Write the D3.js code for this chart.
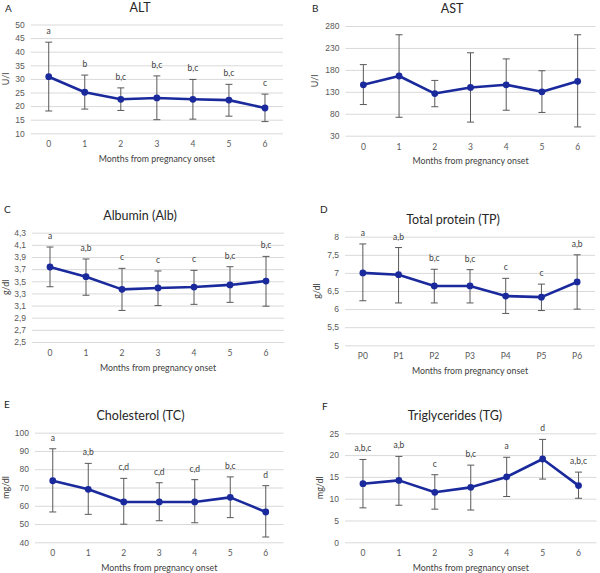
<!DOCTYPE html>
<html>
<head>
<meta charset="utf-8">
<script src="https://cdn.jsdelivr.net/npm/d3@7"></script>
<style>
  body { margin: 0; background: #fff; }
  svg { display: block; font-family: Lato, "Open Sans", sans-serif; }
  .grid line { stroke: #d9d9d9; stroke-width: 1; }
  .grid text { fill: #595959; font-size: 8.5px; }
  .xlab { fill: #595959; font-size: 8.5px; }
  .xtitle { fill: #404040; font-size: 8.8px; }
  .ytitle { fill: #404040; font-size: 9px; }
  .title { fill: #262626; font-size: 12.5px; }
  .panel { fill: #262626; font-size: 10px; }
  .sig { fill: #404040; font-size: 8.5px; }
</style>
</head>
<body>
<svg width="600" height="573"></svg>
<script>
// values
const months = ["0", "1", "2", "3", "4", "5", "6"];
const monthsP = ["P0", "P1", "P2", "P3", "P4", "P5", "P6"];

const altMean = [30.8, 25.1, 22.5, 23.0, 22.5, 22.2, 19.3];
const altHigh = [43.5, 31.4, 26.7, 31.1, 29.8, 28.0, 24.4];
const altLow = [18.2, 18.9, 18.4, 15.0, 15.2, 16.3, 14.3];
const altSig = ["a", "b", "b,c", "b,c", "b,c", "b,c", "c"];
const altTicks = [10, 15, 20, 25, 30, 35, 40, 45, 50];

const astMean = [146, 166, 126, 140, 146, 130, 154];
const astHigh = [192, 260, 156, 219, 205, 178, 260];
const astLow = [101, 72, 96, 61, 88, 83, 50];
const astTicks = [30, 80, 130, 180, 230, 280];

const albMean = [3.735, 3.575, 3.367, 3.39, 3.405, 3.44, 3.504];
const albHigh = [4.064, 3.867, 3.713, 3.67, 3.68, 3.74, 3.91];
const albLow = [3.41, 3.27, 3.02, 3.10, 3.12, 3.153, 3.09];
const albSig = ["a", "a,b", "c", "c", "c", "b,c", "b,c"];
const albTicks = [2.5, 2.7, 2.9, 3.1, 3.3, 3.5, 3.7, 3.9, 4.1, 4.3];

const tpMean = [7.0, 6.95, 6.64, 6.64, 6.36, 6.33, 6.75];
const tpHigh = [7.8, 7.7, 7.1, 7.09, 6.85, 6.69, 7.5];
const tpLow = [6.23, 6.17, 6.17, 6.17, 5.88, 5.96, 6.0];
const tpSig = ["a", "a,b", "b,c", "b,c", "c", "c", "a,b"];
const tpTicks = [5, 5.5, 6, 6.5, 7, 7.5, 8];

const tcMean = [73.7, 69.0, 62.1, 62.1, 62.1, 64.6, 56.6];
const tcHigh = [91.2, 83.2, 75.0, 72.6, 74.3, 75.8, 71.0];
const tcLow = [56.6, 55.3, 49.9, 51.8, 50.7, 53.5, 42.9];
const tcSig = ["a", "a,b", "c,d", "c,d", "c,d", "b,c", "d"];
const tcTicks = [40, 50, 60, 70, 80, 90, 100];

const tgMean = [13.44, 14.2, 11.47, 12.6, 15.0, 19.1, 13.0];
const tgHigh = [19.0, 19.7, 15.5, 17.7, 19.5, 23.6, 16.1];
const tgLow = [7.9, 8.5, 7.6, 7.4, 10.5, 14.5, 10.1];
const tgSig = ["a,b,c", "a,b", "c", "b,c", "a", "d", "a,b,c"];
const tgTicks = [0, 5, 10, 15, 20, 25];

const lineColor = "#1a2a9c";
const svg = d3.select("svg");
const comma = d => String(d).replace(".", ",");

const panels = [
  {tag: "A", title: "ALT", unit: "U/l", cats: months, mean: altMean, hi: altHigh, lo: altLow, sig: altSig, ticks: altTicks,
   x0: 30.7, x1: 283, y0: 24.5, y1: 133.3, tx: 140, lx: 5, ly: 8, ux: 6},
  {tag: "B", title: "AST", unit: "U/l", cats: months, mean: astMean, hi: astHigh, lo: astLow, sig: null, ticks: astTicks,
   x0: 345.5, x1: 595.5, y0: 26, y1: 135.7, tx: 452, lx: 312, ly: 8, ux: 315},
  {tag: "C", title: "Albumin (Alb)", unit: "g/dl", cats: months, mean: albMean, hi: albHigh, lo: albLow, sig: albSig, ticks: albTicks,
   x0: 32, x1: 284, y0: 232.7, y1: 342, tx: 140, lx: 4, ly: 209, ux: 6},
  {tag: "D", title: "Total protein (TP)", unit: "g/dl", cats: monthsP, mean: tpMean, hi: tpHigh, lo: tpLow, sig: tpSig, ticks: tpTicks,
   x0: 345, x1: 595, y0: 236.7, y1: 345.3, tx: 453, lx: 320, ly: 209, ux: 317},
  {tag: "E", title: "Cholesterol (TC)", unit: "mg/dl", cats: months, mean: tcMean, hi: tcHigh, lo: tcLow, sig: tcSig, ticks: tcTicks,
   x0: 35, x1: 283.5, y0: 432.7, y1: 542.3, tx: 140.5, lx: 4, ly: 404, ux: 6},
  {tag: "F", title: "Triglycerides (TG)", unit: "mg/dl", cats: months, mean: tgMean, hi: tgHigh, lo: tgLow, sig: tgSig, ticks: tgTicks,
   x0: 345, x1: 596.5, y0: 433.3, y1: 542.3, tx: 455, lx: 322, ly: 406, ux: 320}
];

panels.forEach(p => {
  const g = svg.append("g");
  const x = d3.scalePoint().domain(p.cats).range([p.x0, p.x1]).padding(0.5);
  const y = d3.scaleLinear().domain(d3.extent(p.ticks)).range([p.y1, p.y0]);

  // gridlines + y tick labels
  g.append("g")
    .attr("class", "grid")
    .attr("transform", `translate(${p.x0},0)`)
    .call(d3.axisLeft(y).tickValues(p.ticks).tickSize(-(p.x1 - p.x0)).tickPadding(6).tickFormat(comma))
    .call(a => a.select(".domain").remove());

  // x labels
  g.selectAll(".xlab").data(p.cats).enter().append("text")
    .attr("class", "xlab")
    .attr("x", d => x(d))
    .attr("y", p.y1 + 14)
    .attr("text-anchor", "middle")
    .text(d => d);

  g.append("text").attr("class", "xtitle")
    .attr("x", (p.x0 + p.x1) / 2).attr("y", p.y1 + 28.5)
    .attr("text-anchor", "middle")
    .text("Months from pregnancy onset");

  g.append("text").attr("class", "ytitle")
    .attr("transform", `translate(${p.ux + 3},${(p.y0 + p.y1) / 2}) rotate(-90)`)
    .attr("text-anchor", "middle")
    .text(p.unit);

  g.append("text").attr("class", "title")
    .attr("x", p.tx).attr("y", p.y0 - 13)
    .attr("text-anchor", "middle")
    .text(p.title);

  g.append("text").attr("class", "panel")
    .attr("x", p.lx).attr("y", p.ly + 4)
    .text(p.tag);

  // error bars
  const eb = g.selectAll(".eb").data(p.cats).enter().append("g").attr("class", "eb")
    .attr("stroke", "#595959").attr("stroke-width", 1);
  eb.append("line").attr("x1", d => x(d)).attr("x2", d => x(d))
    .attr("y1", (d, i) => y(p.hi[i])).attr("y2", (d, i) => y(p.lo[i]));
  eb.append("line").attr("x1", d => x(d) - 3.5).attr("x2", d => x(d) + 3.5)
    .attr("y1", (d, i) => y(p.hi[i])).attr("y2", (d, i) => y(p.hi[i]));
  eb.append("line").attr("x1", d => x(d) - 3.5).attr("x2", d => x(d) + 3.5)
    .attr("y1", (d, i) => y(p.lo[i])).attr("y2", (d, i) => y(p.lo[i]));

  // line + markers
  const line = d3.line().x((d, i) => x(p.cats[i])).y(d => y(d));
  g.append("path").datum(p.mean)
    .attr("d", line)
    .attr("fill", "none")
    .attr("stroke", lineColor)
    .attr("stroke-width", 2.6)
    .attr("stroke-linejoin", "round");
  g.selectAll(".dot").data(p.mean).enter().append("circle")
    .attr("cx", (d, i) => x(p.cats[i]))
    .attr("cy", d => y(d))
    .attr("r", 3.4)
    .attr("fill", lineColor);

  // significance letters
  if (p.sig) {
    g.selectAll(".sig").data(p.sig).enter().append("text")
      .attr("class", "sig")
      .attr("x", (d, i) => x(p.cats[i]))
      .attr("y", (d, i) => y(p.hi[i]) - 8)
      .attr("text-anchor", "middle")
      .text(d => d);
  }
});
</script>
</body>
</html>
